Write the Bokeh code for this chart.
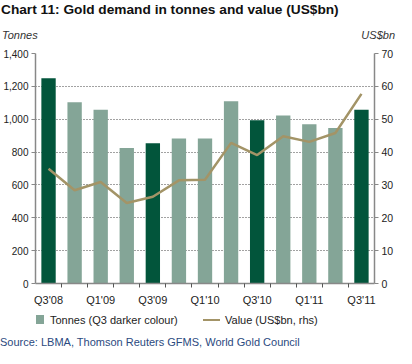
from bokeh.plotting import figure
from bokeh.layouts import column
from bokeh.models import (Range1d, LinearAxis, FixedTicker, Div,
                          NumeralTickFormatter, ColumnDataSource)
from bokeh.embed import file_html
from bokeh.resources import INLINE

quarters = ["Q3'08", "Q4'08", "Q1'09", "Q2'09", "Q3'09", "Q4'09", "Q1'10",
            "Q2'10", "Q3'10", "Q4'10", "Q1'11", "Q2'11", "Q3'11"]
tonnes = [1250, 1104, 1057, 825, 854, 883, 883, 1110, 994, 1023, 970, 947, 1057]
value_bn = [34.9, 28.4, 30.9, 24.5, 26.4, 31.4, 31.6, 42.8, 39.1, 44.8, 43.1, 45.8, 57.7]
tonnes_ticks = [0, 200, 400, 600, 800, 1000, 1200, 1400]
value_ticks = [0, 10, 20, 30, 40, 50, 60, 70]
legend_labels = ["Tonnes (Q3 darker colour)", "Value (US$bn, rhs)"]

DARK = "#02553B"
LIGHT = "#84A597"
GOLD = "#A39467"
FONT = "Liberation Sans"
W = 396

xs = [i + 0.5 for i in range(len(quarters))]
is_q3 = [q.startswith("Q3") for q in quarters]
dark_src = ColumnDataSource(dict(x=[x for x, d in zip(xs, is_q3) if d],
                                 top=[t for t, d in zip(tonnes, is_q3) if d]))
light_src = ColumnDataSource(dict(x=[x for x, d in zip(xs, is_q3) if not d],
                                  top=[t for t, d in zip(tonnes, is_q3) if not d]))

p = figure(width=W, height=262, output_backend="svg", toolbar_location=None,
           x_range=Range1d(0, len(quarters)), y_range=Range1d(0, 1400),
           min_border_left=34, min_border_right=21, min_border_top=7, min_border_bottom=22)
p.extra_y_ranges = {"val": Range1d(0, 70)}
p.outline_line_color = None
p.background_fill_color = "white"

p.vbar(x="x", top="top", width=0.55, source=light_src, fill_color=LIGHT, line_color=None)
p.vbar(x="x", top="top", width=0.55, source=dark_src, fill_color=DARK, line_color=None)
p.line(xs, value_bn, y_range_name="val", line_color=GOLD, line_width=2.5)

p.xgrid.visible = False
p.ygrid.ticker = FixedTicker(ticks=tonnes_ticks)
p.ygrid.grid_line_color = "#444444"
p.ygrid.grid_line_dash = "1 2"
p.ygrid.grid_line_width = 1

# left axis
ya = p.yaxis[0]
ya.ticker = FixedTicker(ticks=tonnes_ticks)
ya.formatter = NumeralTickFormatter(format="0,0")
ya.axis_line_color = "#888888"
ya.axis_line_width = 1.5
ya.major_tick_line_color = "#888888"
ya.major_tick_out = 4
ya.major_tick_in = 0
ya.minor_tick_line_color = None
ya.major_label_text_font = FONT
ya.major_label_text_font_size = "10px"
ya.major_label_text_color = "#222222"
ya.major_label_standoff = 3

# right axis
ra = LinearAxis(y_range_name="val", ticker=FixedTicker(ticks=value_ticks))
ra.axis_line_color = "#888888"
ra.axis_line_width = 1.5
ra.major_tick_line_color = "#888888"
ra.major_tick_out = 4
ra.major_tick_in = 0
ra.minor_tick_line_color = None
ra.major_label_text_font = FONT
ra.major_label_text_font_size = "10.5px"
ra.major_label_text_color = "#222222"
ra.major_label_standoff = 3
p.add_layout(ra, "right")

# bottom axis
label_pos = [x for i, x in enumerate(xs) if i % 2 == 0]
xa = p.xaxis[0]
xa.ticker = FixedTicker(ticks=label_pos, minor_ticks=[float(i) for i in range(1, len(quarters))])
xa.major_label_overrides = {x: quarters[i] for i, x in enumerate(xs) if i % 2 == 0}
xa.axis_line_color = "#888888"
xa.axis_line_width = 1.5
xa.major_tick_line_color = None
xa.major_tick_out = 0
xa.major_tick_in = 0
xa.minor_tick_line_color = "#555555"
xa.minor_tick_out = 4
xa.minor_tick_in = 0
xa.major_label_text_font = FONT
xa.major_label_text_font_size = "11px"
xa.major_label_text_color = "#222222"
xa.major_label_standoff = 6

base = f"font-family:'{FONT}';color:#222222;white-space:nowrap;"
title = Div(text=(f"<div style=\"{base}font-size:13.7px;font-weight:bold;color:#111111;"
                  f"line-height:20px;width:{W}px;padding-left:1px;\">"
                  f"Chart 11: Gold demand in tonnes and value (US$bn)</div>"),
            width=W, height=24, margin=0)
units = Div(text=(f"<div style=\"{base}font-size:11px;font-style:italic;color:#333333;line-height:22px;"
                  f"width:{W - 1}px;display:flex;justify-content:space-between;\">"
                  f"<span style=\"padding-left:2px;\">Tonnes</span><span>US$bn</span></div>"),
            width=W, height=22, margin=0)
legend = Div(text=(f"<div style=\"{base}position:relative;width:{W}px;height:24px;font-size:11px;\">"
                   f"<span style=\"position:absolute;left:36px;top:7px;width:8px;height:9px;"
                   f"background:{LIGHT};\"></span>"
                   f"<span style=\"position:absolute;left:50px;top:0;line-height:24px;\">{legend_labels[0]}</span>"
                   f"<span style=\"position:absolute;left:203px;top:10.5px;width:17px;height:2.5px;"
                   f"background:{GOLD};\"></span>"
                   f"<span style=\"position:absolute;left:225px;top:0;line-height:24px;\">{legend_labels[1]}</span>"
                   f"</div>"),
             width=W, height=24, margin=0)
source = Div(text=(f"<div style=\"{base}font-size:11px;color:#2B4A80;line-height:21px;\">"
                   f"Source: LBMA, Thomson Reuters GFMS, World Gold Council</div>"),
             width=W, height=16, margin=0)

layout = column(title, units, p, legend, source, spacing=0)
open("out.html", "w").write(file_html(layout, INLINE))
